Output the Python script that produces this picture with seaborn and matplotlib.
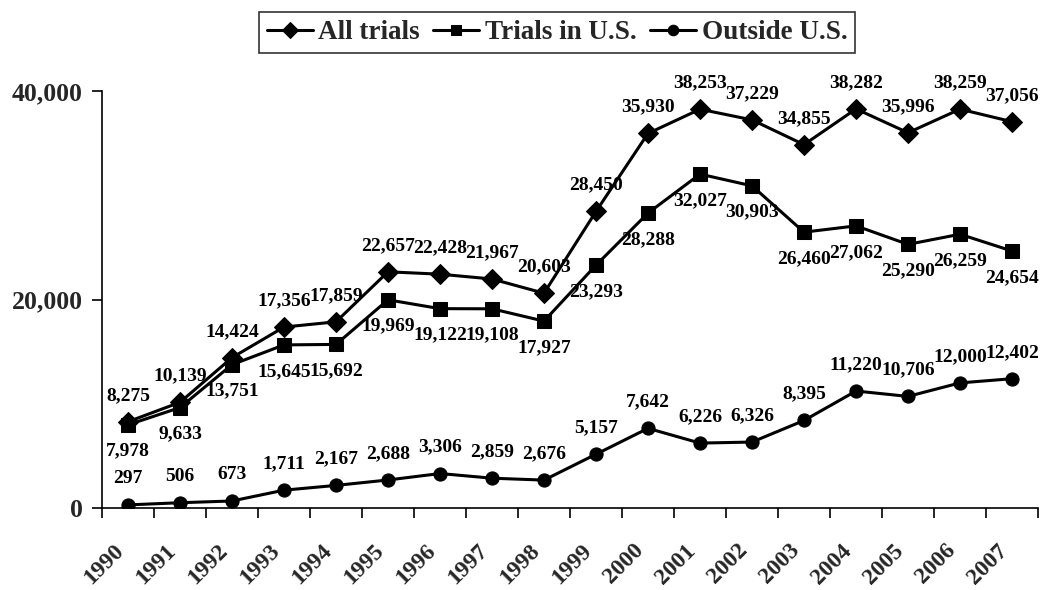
import matplotlib
matplotlib.use("Agg")
import matplotlib.pyplot as plt
import matplotlib.transforms as mtransforms
import seaborn as sns
import pandas as pd
import numpy as np

years = ["1990", "1991", "1992", "1993", "1994", "1995", "1996", "1997", "1998",
         "1999", "2000", "2001", "2002", "2003", "2004", "2005", "2006", "2007"]
all_trials = [8275, 10139, 14424, 17356, 17859, 22657, 22428, 21967, 20603,
              28450, 35930, 38253, 37229, 34855, 38282, 35996, 38259, 37056]
trials_us = [7978, 9633, 13751, 15645, 15692, 19969, 19122, 19108, 17927,
             23293, 28288, 32027, 30903, 26460, 27062, 25290, 26259, 24654]
outside_us = [297, 506, 673, 1711, 2167, 2688, 3306, 2859, 2676,
              5157, 7642, 6226, 6326, 8395, 11220, 10706, 12000, 12402]
series_names = ["All trials", "Trials in U.S.", "Outside U.S."]
y_ticks = [0, 20000, 40000]

sns.set_style("white")
plt.rcParams["font.family"] = ["Liberation Serif", "DejaVu Serif"]
plt.rcParams["font.weight"] = "bold"

fig = plt.figure(figsize=(10.5, 5.9), dpi=100)
ax = fig.add_axes([102 / 1050, 1 - 508 / 590, (1038 - 102) / 1050, (508 - 91) / 590])

pos = np.arange(len(years))
styles = [("D", 10), ("s", 9.5), ("o", 9.5)]
offsets = [19, -19, 19]
for name, vals, (mk, ms), off in zip(series_names, [all_trials, trials_us, outside_us], styles, offsets):
    df = pd.DataFrame({"x": pos, "y": vals})
    sns.lineplot(data=df, x="x", y="y", ax=ax, color="black", linewidth=2.2,
                 marker=mk, markersize=ms, markeredgecolor="black",
                 markerfacecolor="black", label=name, legend=False)
    for xi, v in zip(pos, vals):
        ax.annotate(f"{v:,}", (xi, v), xytext=(0, off), textcoords="offset points",
                    ha="center", va="center", fontsize=14, fontweight="bold",
                    color="black")

ax.set_xlim(-0.5, len(years) - 0.5)
ax.set_ylim(0, 40000)
ax.set_yticks(y_ticks)
ax.set_yticklabels([f"{t:,}" for t in y_ticks], fontsize=18.5, fontweight="bold")
ax.set_xticks(pos)
ax.set_xticklabels(years, rotation=45, ha="right", fontsize=17, fontweight="bold")
shift = mtransforms.ScaledTranslation(-13 / 100, 0, fig.dpi_scale_trans)
for lab in ax.get_xticklabels():
    lab.set_transform(lab.get_transform() + shift)
ax.tick_params(axis="x", which="major", length=0, pad=23)
ax.set_xticks(np.arange(len(years) + 1) - 0.5, minor=True)
ax.tick_params(axis="x", which="minor", length=7, width=1.2, color="black", direction="out", bottom=True)
ax.tick_params(axis="y", length=7, width=1.2, color="black", direction="out", left=True, pad=7)
ax.set_xlabel("")
ax.set_ylabel("")
for s in ["top", "right"]:
    ax.spines[s].set_visible(False)
for s in ["left", "bottom"]:
    ax.spines[s].set_color("black")
    ax.spines[s].set_linewidth(1.2)
ax.grid(False)

handles, labels = ax.get_legend_handles_labels()
leg = fig.legend(handles, labels, loc="upper center", bbox_to_anchor=(557 / 1050, 1 - 12 / 590),
                 ncol=3, frameon=True, fancybox=False, edgecolor="black",
                 prop={"size": 19.5, "weight": "bold"}, handlelength=1.7,
                 handletextpad=0.2, columnspacing=0.5, borderpad=0.3, borderaxespad=0,
                 markerscale=0.8)
leg.get_frame().set_linewidth(1.2)

fig.savefig("out.png", dpi=100)
